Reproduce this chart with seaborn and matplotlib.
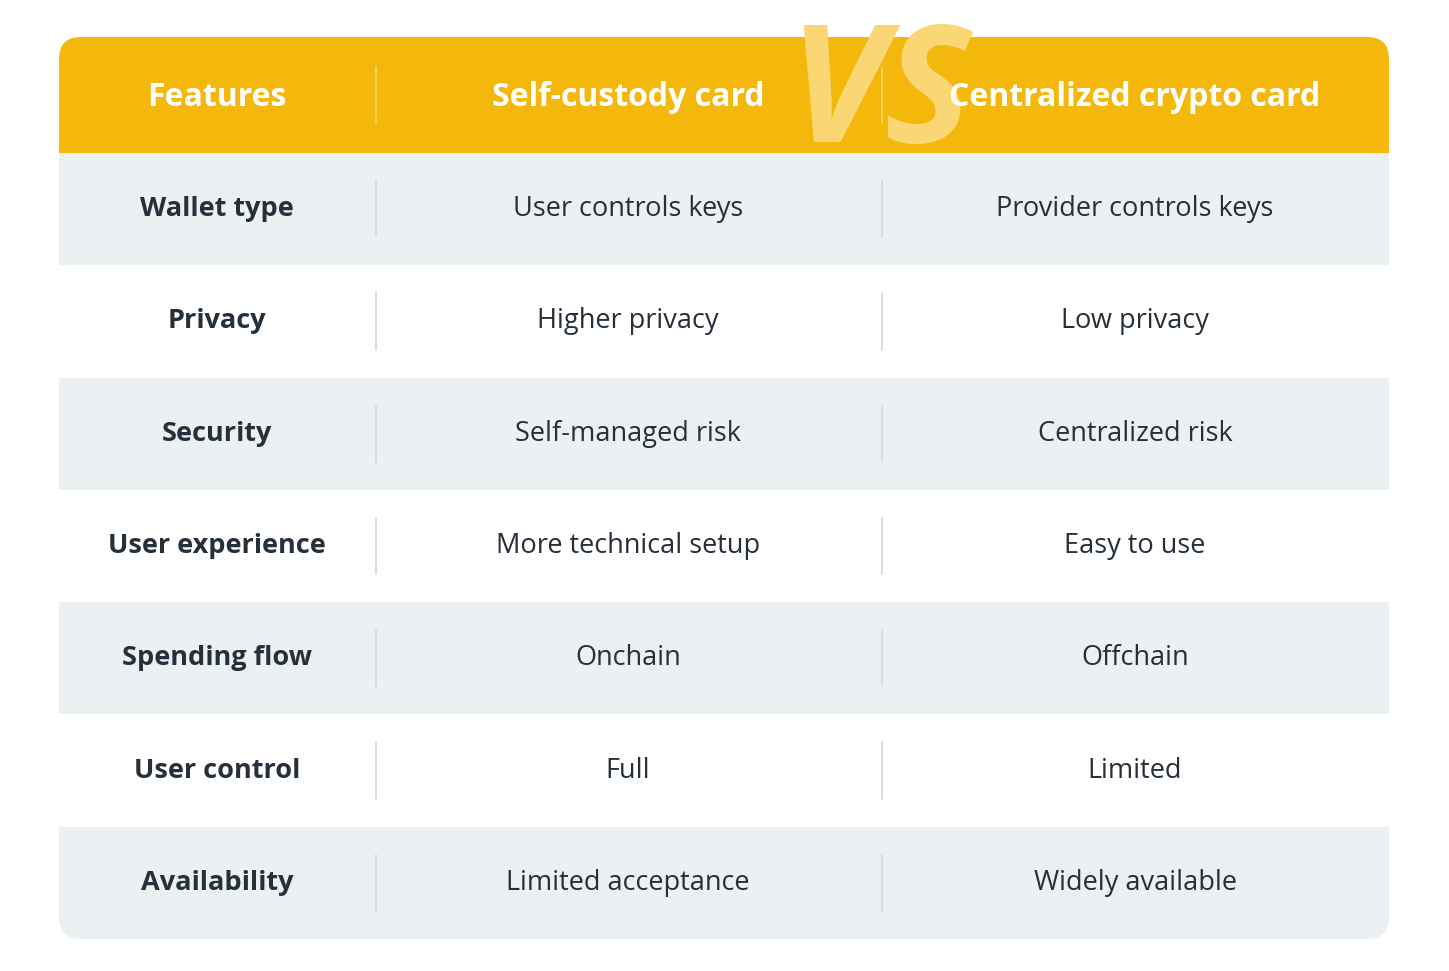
import matplotlib
matplotlib.use("Agg")
import matplotlib.pyplot as plt
import seaborn as sns
from matplotlib.patches import FancyBboxPatch, Rectangle

sns.set_theme(style="white")

headers = ["Features", "Self-custody card", "Centralized crypto card"]
features = ["Wallet type", "Privacy", "Security", "User experience",
            "Spending flow", "User control", "Availability"]
self_custody = ["User controls keys", "Higher privacy", "Self-managed risk",
                "More technical setup", "Onchain", "Full", "Limited acceptance"]
centralized = ["Provider controls keys", "Low privacy", "Centralized risk",
               "Easy to use", "Offchain", "Limited", "Widely available"]

W, H = 1449, 971
left, right, top, bottom = 59, 1389, 37, 939
header_h = 116
row_h = (bottom - top - header_h) / len(features)
col_x = [217, 628, 1135]
div_x = [376, 882]
yellow = "#F4B80C"
stripe = "#EBF0F3"
ink = "#26303A"

fig = plt.figure(figsize=(W / 100, H / 100), dpi=100)
ax = fig.add_axes([0, 0, 1, 1])
ax.set_xlim(0, W)
ax.set_ylim(H, 0)
ax.axis("off")

shape = FancyBboxPatch((left, top), right - left, bottom - top,
                       boxstyle="round,pad=0,rounding_size=22",
                       facecolor="white", edgecolor="none")
ax.add_patch(shape)

header = Rectangle((left, top), right - left, header_h, facecolor=yellow, edgecolor="none")
ax.add_patch(header)
header.set_clip_path(shape)

vs = ax.text(880, top + 62, "VS", fontsize=118, fontstyle="italic", fontweight="bold",
             family="Open Sans", color="#FAD774", ha="center", va="center")
vs.set_clip_path(header)

for i, h in enumerate(headers):
    ax.text(col_x[i], top + header_h / 2 + 2, h, fontsize=23, fontweight="bold",
            family="Open Sans", color="white", ha="center", va="center")
for x in div_x:
    ax.plot([x, x], [top + 30, top + header_h - 30], color="#F8D466", lw=1.2)

for i, (f, a, b) in enumerate(zip(features, self_custody, centralized)):
    y0 = top + header_h + i * row_h
    if i % 2 == 0:
        r = Rectangle((left, y0), right - left, row_h, facecolor=stripe, edgecolor="none")
        ax.add_patch(r)
        r.set_clip_path(shape)
    yc = y0 + row_h / 2
    ax.text(col_x[0], yc, f, fontsize=19.5, fontweight="bold", family="Open Sans",
            color=ink, ha="center", va="center")
    ax.text(col_x[1], yc, a, fontsize=19.5, family="Open Sans", color=ink,
            ha="center", va="center")
    ax.text(col_x[2], yc, b, fontsize=19.5, family="Open Sans", color=ink,
            ha="center", va="center")
    for x in div_x:
        ax.plot([x, x], [y0 + 28, y0 + row_h - 28], color="#CFD8DE", lw=1.2)

fig.savefig("out.png", dpi=100, facecolor="white")
